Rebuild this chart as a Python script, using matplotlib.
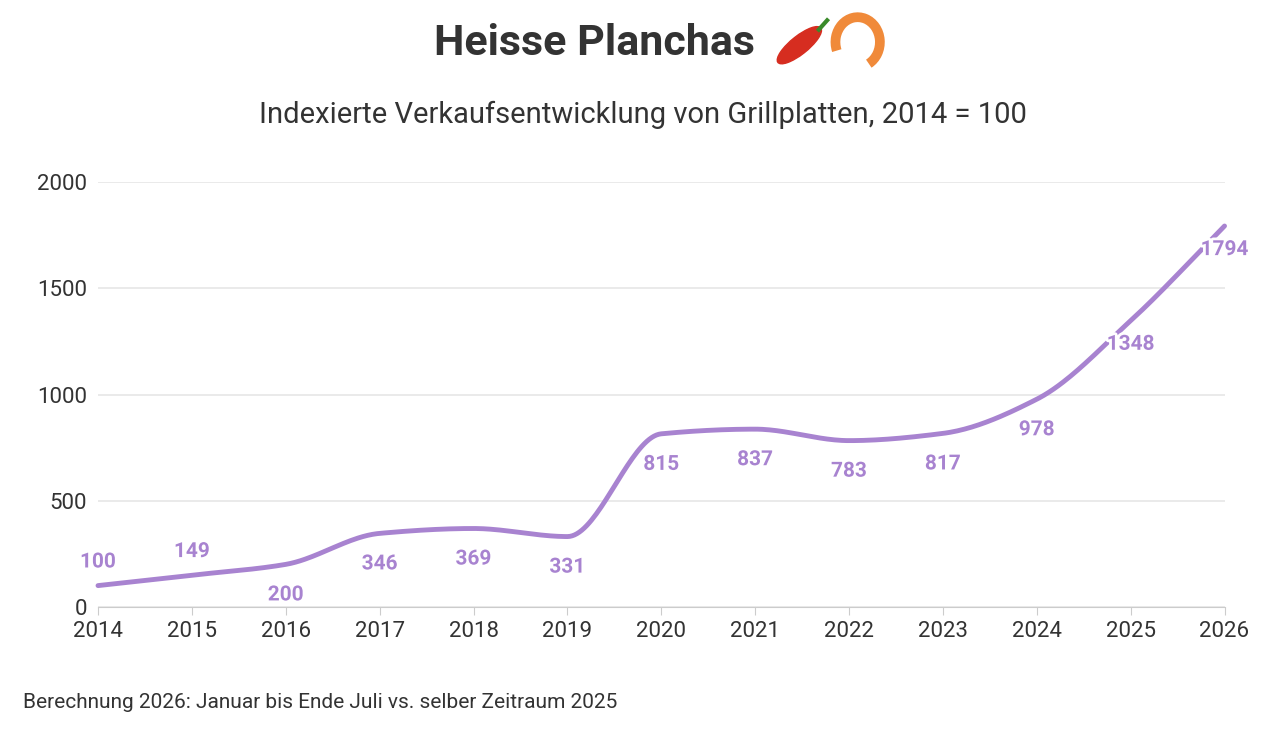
import matplotlib
matplotlib.use("Agg")
import matplotlib.pyplot as plt
import matplotlib.patheffects as pe
from matplotlib.patches import Ellipse, Arc
import numpy as np

years = [2014,2015,2016,2017,2018,2019,2020,2021,2022,2023,2024,2025,2026]
values = [100,149,200,346,369,331,815,837,783,817,978,1348,1794]
label_dy = [1,1,-1,-1,-1,-1,-1,-1,-1,-1,-1,-1,-1]  # +1 above, -1 below

plt.rcParams['font.family'] = ['Roboto', 'DejaVu Sans']
color = '#a883d0'

def pchip(x, y, n=40):
    x = np.asarray(x, float); y = np.asarray(y, float)
    h = np.diff(x); d = np.diff(y) / h
    m = np.zeros_like(y)
    for i in range(1, len(y) - 1):
        if d[i-1] * d[i] > 0:
            m[i] = 2 / (1/d[i-1] + 1/d[i])
    m[0] = d[0]; m[-1] = d[-1]
    xs, ys = [], []
    for i in range(len(h)):
        t = np.linspace(0, 1, n)
        h00 = 2*t**3 - 3*t**2 + 1; h10 = t**3 - 2*t**2 + t
        h01 = -2*t**3 + 3*t**2; h11 = t**3 - t**2
        xs.append(x[i] + t*h[i])
        ys.append(h00*y[i] + h10*h[i]*m[i] + h01*y[i+1] + h11*h[i]*m[i+1])
    return np.concatenate(xs), np.concatenate(ys)

fig = plt.figure(figsize=(12.86, 7.32), dpi=100)
ax = fig.add_axes([0.0762, 0.171, 0.876, 0.58])
sx, sy = pchip(years, values)
ax.plot(sx, sy, color=color, lw=3.5, solid_capstyle='round', clip_on=False, zorder=3)

for x, v, dy in zip(years, values, label_dy):
    if x >= 2025:
        off = -17
    else:
        off = 17 if dy > 0 else -22
    ax.annotate(str(v), (x, v), xytext=(0, off), textcoords='offset points',
                ha='center', va='center', fontsize=15, fontweight='bold', color=color,
                path_effects=[pe.withStroke(linewidth=4, foreground='white')], zorder=4)

ax.set_xlim(2014, 2026)
ax.set_ylim(0, 2000)
ax.set_xticks(years)
ax.set_yticks([0, 500, 1000, 1500, 2000])
ax.tick_params(axis='both', labelsize=16, colors='#333333', length=0, pad=8)
ax.tick_params(axis='x', length=6, color='#cccccc', pad=4)
ax.grid(axis='y', color='#e6e6e6', lw=1.2)
for s in ['top', 'right', 'left']:
    ax.spines[s].set_visible(False)
ax.spines['bottom'].set_color('#cccccc')
ax.set_axisbelow(True)

t = fig.text(0.462, 0.94, 'Heisse Planchas', ha='center', va='center',
             fontsize=31, fontweight='bold', color='#333333')
# emoji stand-ins (no emoji font installed): chili and shrimp shapes
fa = fig.add_axes([0.6, 0.9, 0.095, 0.085])
fa.set_xlim(0, 2.2); fa.set_ylim(0, 1); fa.axis('off')
fa.add_patch(Ellipse((0.5, 0.45), 0.95, 0.3, angle=35, color='#d62d20'))
fa.plot([0.85, 1.0], [0.7, 0.85], color='#3a8a2a', lw=3)
fa.add_patch(Arc((1.55, 0.5), 0.8, 0.8, theta1=-60, theta2=200, color='#f08a3a', lw=7))
fig.text(0.5, 0.843, 'Indexierte Verkaufsentwicklung von Grillplatten, 2014 = 100',
         ha='center', va='center', fontsize=21, color='#333333')
fig.text(0.018, 0.04, 'Berechnung 2026: Januar bis Ende Juli vs. selber Zeitraum 2025',
         ha='left', va='center', fontsize=15, color='#333333')
fig.savefig('out.png', dpi=100, facecolor='white')
